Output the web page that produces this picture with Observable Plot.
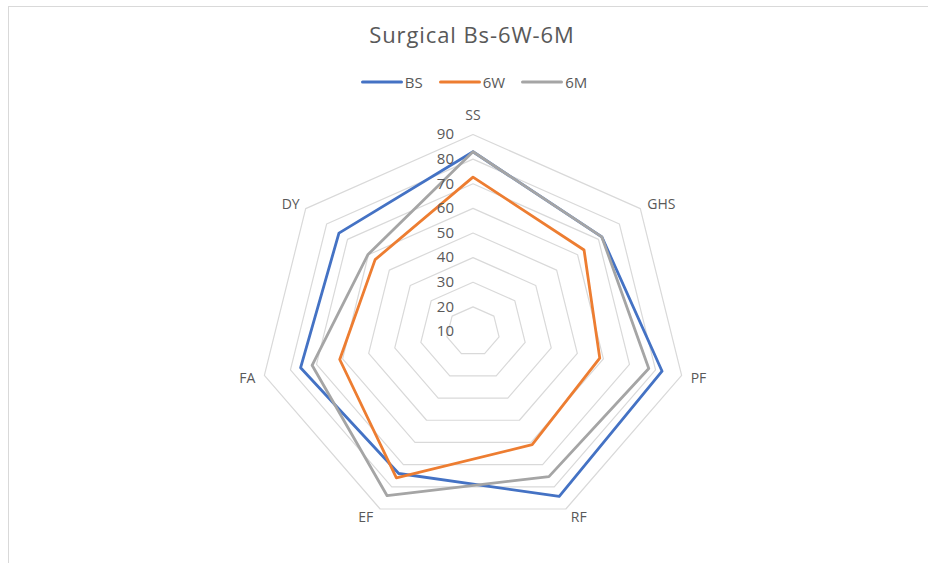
<!DOCTYPE html>
<html><head><meta charset="utf-8">
<script src="https://cdn.jsdelivr.net/npm/d3@7"></script>
<script src="https://cdn.jsdelivr.net/npm/@observablehq/plot@0.6"></script>
<style>
html,body{margin:0;padding:0;background:#fff;overflow:hidden;width:928px;height:563px;}
body{position:relative;font-family:"Open Sans",Lato,sans-serif;color:#595959;}
#frame{position:absolute;left:8px;top:6px;width:930px;height:600px;border:1px solid #d9d9d9;box-sizing:border-box;}
#title{position:absolute;left:8px;width:928px;top:21px;text-align:center;font-size:22px;line-height:26px;letter-spacing:0.9px;}
#legend{position:absolute;left:10px;width:928px;top:73px;height:18px;display:flex;justify-content:center;align-items:center;font-size:15px;}
.item{display:flex;align-items:center;margin:0 8px;}
.item svg{margin-right:2px;}
#chart{position:absolute;left:0;top:95px;}
</style></head>
<body>
<div id="frame"></div>
<div id="title">Surgical Bs-6W-6M</div>
<div id="legend"></div>
<div id="chart"></div>
<script>
const categories = ["SS","GHS","PF","RF","EF","FA","DY"];
const seriesNames = ["BS","6W","6M"];
const bsValues = [83, 71.6, 82.5, 84.3, 74, 76.1, 74.1];
const w6Values = [72.7, 63.1, 58.6, 61, 76, 61.1, 56.8];
const m6Values = [83, 71.6, 77.4, 75.4, 84, 71.7, 60.2];
const tickValues = [10, 20, 30, 40, 50, 60, 70, 80, 90];
const seriesColors = ["#4472C4", "#ED7D31", "#A5A5A5"];

const axisMin = 10, axisMax = 90;
const n = categories.length;
const ang = i => i * 2 * Math.PI / n;
const rad = v => (v - axisMin) / (axisMax - axisMin);
const px = (v, i) => rad(v) * Math.sin(ang(i));
const py = (v, i) => rad(v) * Math.cos(ang(i));

const allSeries = [bsValues, w6Values, m6Values];
const seriesData = [];
seriesNames.forEach((s, k) => allSeries[k].forEach((v, i) => seriesData.push({series: s, cat: categories[i], i, v})));
const ringData = [];
tickValues.slice(1).forEach(level => categories.forEach((c, i) => ringData.push({level, i})));

// legend
const legend = document.getElementById("legend");
seriesNames.forEach((s, k) => {
  const it = document.createElement("div");
  it.className = "item";
  it.innerHTML = `<svg width="42" height="6"><line x1="1.5" y1="3" x2="40.5" y2="3" stroke="${seriesColors[k]}" stroke-width="3" stroke-linecap="round"/></svg><span>${s}</span>`;
  legend.appendChild(it);
});

const top0 = 95;
const cx = 472.5, cy = 331 - top0, Rx = 214, Ry = 197;

const labelStyle = {
  SS: {textAnchor: "middle", dx: 0, dy: -19},
  GHS: {textAnchor: "start", dx: 7, dy: -4},
  PF: {textAnchor: "start", dx: 9, dy: 3.5},
  RF: {textAnchor: "start", dx: 5, dy: 9},
  EF: {textAnchor: "end", dx: -7, dy: 8.5},
  FA: {textAnchor: "end", dx: -9, dy: 3.5},
  DY: {textAnchor: "end", dx: -6, dy: -4}
};

const chart = Plot.plot({
  width: 928, height: 455, margin: 0,
  style: {fontFamily: "'Open Sans', Lato, sans-serif", background: "transparent", overflow: "visible"},
  x: {domain: [-1, 1], range: [cx - Rx, cx + Rx], axis: null},
  y: {domain: [-1, 1], range: [cy + Ry, cy - Ry], axis: null},
  color: {domain: seriesNames, range: seriesColors},
  marks: [
    Plot.line(ringData, {x: d => px(d.level, d.i), y: d => py(d.level, d.i), z: "level", curve: "linear-closed", stroke: "#d9d9d9", strokeWidth: 1.2}),
    Plot.line(seriesData, {x: d => px(d.v, d.i), y: d => py(d.v, d.i), z: "series", stroke: "series", curve: "linear-closed", strokeWidth: 2.8, strokeLinejoin: "round"}),
    Plot.text(tickValues, {x: d => 0, y: d => rad(d), text: d => String(d), textAnchor: "end", dx: -19, fontSize: 15, fill: "#595959"}),
    ...categories.map((c, i) => Plot.text([c], {x: d => px(axisMax, i), y: d => py(axisMax, i), text: d => d, fontSize: 14, fill: "#595959", ...labelStyle[c]}))
  ]
});
document.getElementById("chart").appendChild(chart);
</script>
</body></html>
